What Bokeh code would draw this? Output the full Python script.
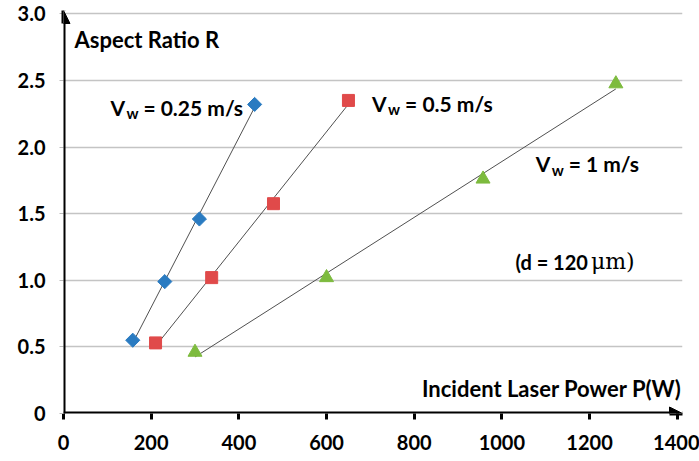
import numpy as np
from bokeh.plotting import figure
from bokeh.models import Arrow, NormalHead, Label, FixedTicker
from bokeh.embed import file_html
from bokeh.resources import INLINE

# data
p025_x = [158, 231, 310, 436]
p025_y = [0.55, 0.99, 1.46, 2.32]
p05_x = [210, 338, 479, 650]
p05_y = [0.53, 1.02, 1.575, 2.35]
p1_x = [300, 600, 957, 1260]
p1_y = [0.46, 1.02, 1.76, 2.475]
x_ticks = [0, 200, 400, 600, 800, 1000, 1200, 1400]
y_ticks = [0, 0.5, 1.0, 1.5, 2.0, 2.5, 3.0]
y_tick_labels = ["0", "0.5", "1.0", "1.5", "2.0", "2.5", "3.0"]

FONT = "Lato"
X_END = 1412
Y_END = 3.025

p = figure(width=699, height=461, x_range=(0, X_END), y_range=(0, Y_END),
           output_backend="svg", toolbar_location=None,
           min_border_left=63, min_border_right=17, min_border_top=10, min_border_bottom=48)
p.outline_line_color = None
p.background_fill_color = "white"

# axes
for ax in (p.xaxis[0], p.yaxis[0]):
    ax.axis_line_color = None
    ax.major_label_text_font = FONT
    ax.major_label_text_font_style = "bold"
    ax.major_label_text_font_size = "20px"
    ax.major_label_text_color = "black"
    ax.minor_tick_line_color = None
p.xaxis.ticker = FixedTicker(ticks=x_ticks)
p.yaxis.ticker = FixedTicker(ticks=y_ticks)
p.yaxis.major_label_overrides = {t: l for t, l in zip(y_ticks, y_tick_labels)}
p.xaxis.major_tick_in = 0
p.xaxis.major_tick_out = 6
p.xaxis.major_tick_line_width = 3
p.xaxis.major_tick_line_color = "black"
p.xaxis.major_label_standoff = 15
p.yaxis.major_tick_in = 0
p.yaxis.major_tick_out = 4
p.yaxis.major_tick_line_color = "#bbbbbb"
p.yaxis.major_label_standoff = 14

p.xgrid.grid_line_color = None
p.ygrid.grid_line_color = "#c4c4c4"
p.ygrid.grid_line_width = 1.5

# trend lines
colors = ["#2a7bc1", "#e04a4a", "#7dbb3e"]
for xs, ys in ((p025_x, p025_y), (p05_x, p05_y), (p1_x, p1_y)):
    k, b = np.polyfit(xs, ys, 1)
    xl = [min(xs), max(xs)]
    p.line(xl, [k * v + b for v in xl], line_color="#505050", line_width=1)

p.scatter(p025_x, p025_y, marker="square", angle=np.pi / 4, size=10,
          fill_color=colors[0], line_color=colors[0])
p.scatter(p05_x, p05_y, marker="square", size=12, fill_color=colors[1], line_color=colors[1])
p.scatter(p1_x, p1_y, marker="triangle", size=14, fill_color=colors[2], line_color=colors[2])

# axis arrows
p.add_layout(Arrow(end=NormalHead(size=13, fill_color="black", line_color="black"),
                   x_start=0, y_start=0, x_end=0, y_end=Y_END, line_width=4, line_color="black"))
p.add_layout(Arrow(end=NormalHead(size=13, fill_color="black", line_color="black"),
                   x_start=0, y_start=0, x_end=X_END, y_end=0, line_width=4, line_color="black"))

def lab(x, y, text, size="21px", style="bold", font=FONT, align="left", xoff=0, yoff=0):
    p.add_layout(Label(x=x, y=y, text=text, text_font=font, text_font_style=style,
                       text_font_size=size, text_align=align, text_baseline="middle",
                       x_offset=xoff, y_offset=yoff, text_color="black"))

def vw(x, y, rest):
    lab(x, y, "V")
    lab(x, y, "w", size="15px", xoff=16, yoff=-6)
    lab(x, y, rest, xoff=33)

# axis titles
lab(25, 2.81, "Aspect Ratio R", size="22px")
lab(1410, 0.19, "Incident Laser Power P(W)", size="22px", align="right")

vw(107, 2.30, "= 0.25 m/s")
vw(704, 2.33, "= 0.5 m/s")
vw(1077, 1.875, "= 1 m/s")

lab(1031, 1.14, "(d = 120", size="20px")
lab(1203, 1.14, "\u03bcm)", style="normal", font="DejaVu Serif", size="22px")

open("out.html", "w").write(file_html(p, INLINE))
